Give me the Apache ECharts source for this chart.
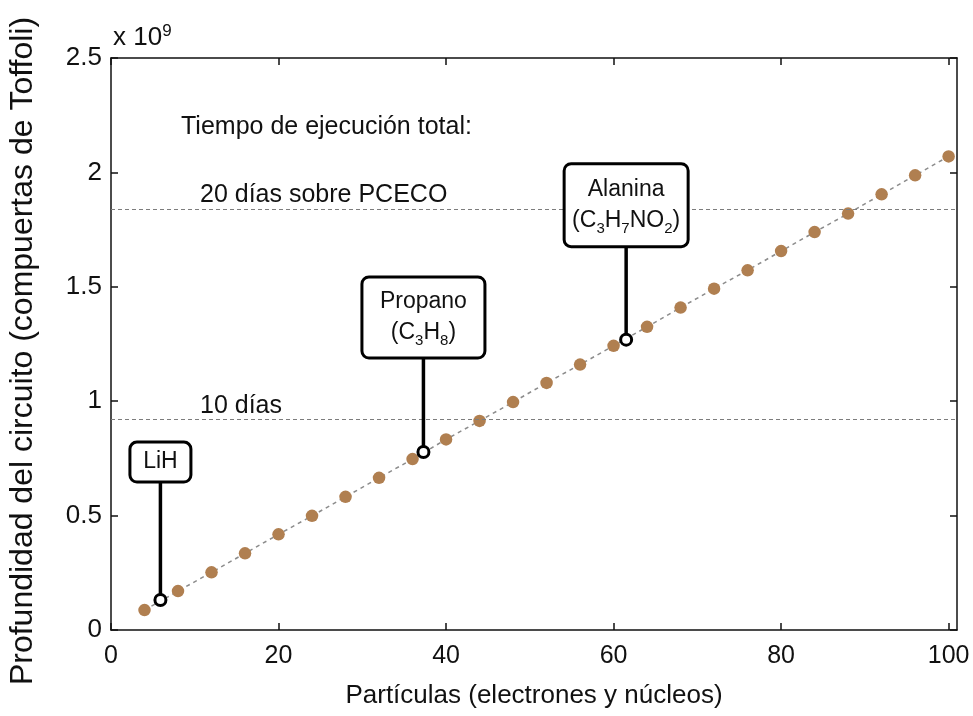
<!DOCTYPE html>
<html>
<head>
<meta charset="utf-8">
<script src="https://cdn.jsdelivr.net/npm/echarts@6/dist/echarts.min.js"></script>
<style>
html,body{margin:0;padding:0;background:#fff;}
#chart{width:973px;height:716px;}
</style>
</head>
<body>
<div id="chart"></div>
<script>
// ---- data (depth in units of 10^9 Toffoli gates) ----
var particles = [4, 8, 12, 16, 20, 24, 28, 32, 36, 40, 44, 48, 52, 56, 60, 64, 68, 72, 76, 80, 84, 88, 92, 96, 100];
var depth = [0.087, 0.170, 0.252, 0.335, 0.418, 0.499, 0.582, 0.665, 0.747, 0.833, 0.914, 0.996, 1.080, 1.160, 1.242, 1.325, 1.409, 1.492, 1.572, 1.656, 1.739, 1.820, 1.904, 1.987, 2.070];

var xTicks = [0, 20, 40, 60, 80, 100];
var yTicks = [0, 0.5, 1, 1.5, 2, 2.5];

var refLevels = [0.921, 1.838];
var refLabels = ['10 días', '20 días sobre PCECO'];

var annotNames = ['LiH', 'Propano', 'Alanina'];
var annotFormulas = ['', '(C{s|3}H{s|8})', '(C{s|3}H{s|7}NO{s|2})'];
var annotX = [5.9, 37.3, 61.5];
var annotY = [0.131, 0.778, 1.269];

var headerText = 'Tiempo de ejecución total:';
var xTitle = 'Partículas (electrones y núcleos)';
var yTitle = 'Profundidad del circuito (compuertas de Toffoli)';

// ---- layout / style (not data) ----
var annotLayout = [
  {w: 61, h: 40, stem: 118},
  {w: 123, h: 81, stem: 94},
  {w: 124, h: 83, stem: 93}
];
var FONT = "'Liberation Sans', Arial, Helvetica, sans-serif";

var chart = echarts.init(document.getElementById('chart'), null, {renderer: 'canvas'});

var seriesData = particles.map(function (x, i) { return [x, depth[i]]; });
var annotData = annotX.map(function (x, i) { return [x, annotY[i]]; });

var axisLineStyle = {color: '#111', width: 1.5};

var option = {
  animation: false,
  backgroundColor: '#fff',
  textStyle: {fontFamily: FONT, color: '#111'},
  grid: {left: 111, right: 16, top: 58, bottom: 86, containLabel: false, outerBoundsMode: 'none'},
  graphic: [
    {
      type: 'text', left: 113, top: 23,
      style: {
        text: '{a|x 10}{b|9}',
        fontFamily: FONT,
        rich: {
          a: {fontSize: 26, lineHeight: 30, fill: '#111', fontFamily: FONT},
          b: {fontSize: 17, lineHeight: 8, verticalAlign: 'top', fill: '#111', fontFamily: FONT}
        }
      }
    },
    {
      type: 'text', left: 181, top: 115,
      style: {text: headerText, fontSize: 25, fontFamily: FONT, fill: '#111'}
    }
  ],
  xAxis: [
    {
      type: 'value', min: 0, max: 101, position: 'bottom',
      axisLine: {show: true, onZero: false, lineStyle: axisLineStyle},
      axisTick: {show: true, inside: true, length: 7, lineStyle: axisLineStyle, customValues: xTicks},
      axisLabel: {show: true, fontSize: 25, margin: 14, color: '#111', customValues: xTicks},
      splitLine: {show: false},
      name: xTitle, nameLocation: 'middle', nameGap: 53,
      nameTextStyle: {fontSize: 26, color: '#111'}
    },
    {
      type: 'value', min: 0, max: 101, position: 'top',
      axisLine: {show: true, onZero: false, lineStyle: axisLineStyle},
      axisTick: {show: true, inside: true, length: 7, lineStyle: axisLineStyle, customValues: xTicks},
      axisLabel: {show: false},
      splitLine: {show: false}
    }
  ],
  yAxis: [
    {
      type: 'value', min: 0, max: 2.5, interval: 0.5, position: 'left',
      axisLine: {show: true, onZero: false, lineStyle: axisLineStyle},
      axisTick: {show: true, inside: true, length: 7, lineStyle: axisLineStyle},
      axisLabel: {show: true, fontSize: 26, margin: 9, color: '#111'},
      splitLine: {show: false},
      name: yTitle, nameLocation: 'middle', nameGap: 72, nameRotate: 90,
      nameTextStyle: {fontSize: 32, color: '#111', padding: [0, 14, 0, 0]}
    },
    {
      type: 'value', min: 0, max: 2.5, interval: 0.5, position: 'right',
      axisLine: {show: true, onZero: false, lineStyle: axisLineStyle},
      axisTick: {show: true, inside: true, length: 7, lineStyle: axisLineStyle},
      axisLabel: {show: false},
      splitLine: {show: false}
    }
  ],
  series: [
    {
      type: 'line',
      xAxisIndex: 0, yAxisIndex: 0,
      data: seriesData,
      symbol: 'circle', symbolSize: 12.5,
      itemStyle: {color: '#b07f50'},
      lineStyle: {color: '#8c8c8c', width: 1.5, type: [4, 4]},
      emphasis: {disabled: true},
      z: 3,
      markLine: {
        silent: true,
        symbol: ['none', 'none'],
        lineStyle: {color: '#7d7d7d', width: 1, type: [4, 3]},
        label: {
          show: true, position: 'insideStartTop', distance: [89, 1],
          fontSize: 25, color: '#111', fontFamily: FONT
        },
        emphasis: {disabled: true},
        data: refLevels.map(function (v, i) {
          return {yAxis: v, label: {formatter: refLabels[i]}};
        })
      }
    },
    {
      type: 'custom',
      xAxisIndex: 0, yAxisIndex: 0,
      data: annotData,
      z: 10,
      silent: true,
      renderItem: function (params, api) {
        var i = params.dataIndex;
        var p = api.coord([api.value(0), api.value(1)]);
        var L = annotLayout[i];
        var bottom = p[1] - L.stem;
        var top = bottom - L.h;
        var txt = annotNames[i] + (annotFormulas[i] ? '\n' + annotFormulas[i] : '');
        return {
          type: 'group',
          children: [
            {type: 'line', shape: {x1: p[0], y1: p[1] - 5, x2: p[0], y2: bottom},
             style: {stroke: '#000', lineWidth: 3.5}},
            {type: 'rect', shape: {x: p[0] - L.w / 2, y: top, width: L.w, height: L.h, r: 7},
             style: {fill: '#fff', stroke: '#000', lineWidth: 3}},
            {type: 'text', x: p[0], y: top + L.h / 2,
             style: {
               text: txt, fontSize: 23, fontFamily: FONT, fill: '#111',
               align: 'center', verticalAlign: 'middle', lineHeight: 31,
               rich: {
                 s: {fontSize: 15, lineHeight: 12, verticalAlign: 'bottom', fill: '#111', fontFamily: FONT}
               }
             }},
            {type: 'circle', shape: {cx: p[0], cy: p[1], r: 5.5},
             style: {fill: '#fff', stroke: '#000', lineWidth: 3}}
          ]
        };
      }
    }
  ]
};
chart.setOption(option);
</script>
</body>
</html>
